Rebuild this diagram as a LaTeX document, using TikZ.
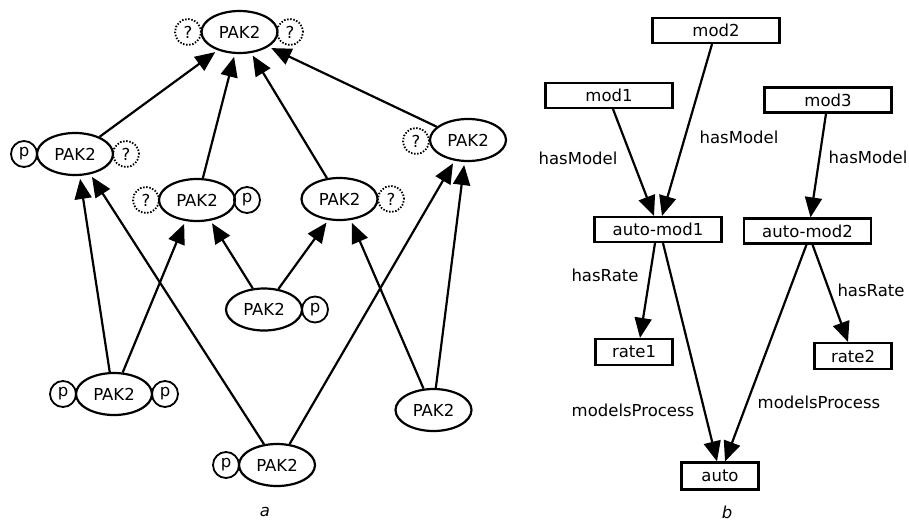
\documentclass[tikz,border=0pt]{standalone}
\usepackage{fontspec}
\setmainfont{DejaVu Sans}
\usetikzlibrary{shapes.geometric,arrows.meta}
\begin{document}
\begin{tikzpicture}[x=1pt,y=-1pt,
  font=\fontsize{16.5}{19}\selectfont,
  every path/.style={line width=2.2pt},
  prot/.style={ellipse,draw,line width=2.2pt,minimum width=76pt,minimum height=42pt,inner sep=0pt},
  site/.style={circle,draw,line width=1.8pt,minimum size=26pt,inner sep=0pt},
  unknown/.style={site,dash pattern=on 1.5pt off 1.6pt},
  box/.style={rectangle,draw,line width=2.2pt,minimum width=127pt,minimum height=25pt,inner sep=0pt},
  smallbox/.style={box,minimum width=77pt,minimum height=26pt},
  lbl/.style={inner sep=0pt},
  arr/.style={-{Triangle[length=20pt,width=17pt]},line width=2.2pt},
  arrgap/.style={arr,shorten >=3pt}]
\useasboundingbox (0,0) rectangle (909,522);

% ---------- (a) phosphorylation lattice of PAK2 ----------
\node[prot] (top) at (239.5,32) {PAK2};
\node[unknown] (topq1) at (188,32) {?};
\node[unknown] (topq2) at (290,32) {?};

\node[prot] (lp) at (75,154) {PAK2};
\node[site] (lpp) at (24,154) {p};
\node[unknown] (lpq) at (126,154) {?};

\node[prot] (ml) at (197,200) {PAK2};
\node[unknown] (mlq) at (146,200) {?};
\node[site] (mlp) at (247,200) {p};

\node[prot] (mr) at (339.5,199) {PAK2};
\node[unknown] (mrq) at (391,199) {?};

\node[prot] (rp) at (468,140) {PAK2};
\node[unknown] (rpq) at (416,141) {?};

\node[prot] (cc) at (264,309.5) {PAK2};
\node[site] (ccp) at (315,309.5) {p};

\node[prot] (bl) at (114,394) {PAK2};
\node[site] (blp1) at (63,394) {p};
\node[site] (blp2) at (165,394) {p};

\node[prot] (bb) at (277,465) {PAK2};
\node[site] (bbp) at (226,465) {p};

\node[prot] (br) at (433.5,410) {PAK2};

\draw[arrgap] (lp.35)   -- (top.-140);
\draw[arrgap] (ml.75)   -- (top.-102);
\draw[arrgap] (mr.121)  -- (top.-61);
\draw[arrgap] (rp.157)  -- (top.-27);
\draw[arrgap] (bl.101)  -- (lp.-78);
\draw[arrgap] (bb.122)  -- (lp.-53);
\draw[arrgap] (bl.68)   -- (ml.-119);
\draw[arrgap] (cc.118)  -- (ml.-57);
\draw[arrgap] (cc.55)   -- (mr.-118);
\draw[arrgap] (br.115)  -- (mr.-62);
\draw[arrgap] (bb.59)   -- (rp.-123);
\draw[arrgap] (br.84)   -- (rp.-99);

\node[lbl,font=\fontsize{16.5}{19}\selectfont\itshape] (capa) at (265,512) {a};

% ---------- (b) model annotation graph ----------
\node[box] (mod2) at (716,30.5) {mod2};
\node[box] (mod1) at (609,95.5) {mod1};
\node[box] (mod3) at (828,100) {mod3};
\node[box] (am1) at (658,229.5) {auto-mod1};
\node[box] (am2) at (807.5,231) {auto-mod2};
\node[smallbox] (rate1) at (634,352) {rate1};
\node[smallbox] (rate2) at (853,356) {rate2};
\node[smallbox,minimum height=27pt] (auto) at (720,476) {auto};

\draw[arr] ([xshift=4pt]mod1.south)  -- ([xshift=-4pt]am1.north);
\draw[arr] ([xshift=-4pt]mod2.south) -- ([xshift=4pt]am1.north);
\draw[arr] ([xshift=-2pt]mod3.south) -- ([xshift=3pt]am2.north);
\draw[arr] ([xshift=-3pt]am1.south)  -- ([xshift=6pt]rate1.north);
\draw[arr] ([xshift=5pt]am1.south)   -- ([xshift=-3pt]auto.north);
\draw[arr] ([xshift=5pt]am2.south)   -- ([xshift=-5pt]rate2.north);
\draw[arr] ([xshift=-1pt]am2.south)  -- ([xshift=5pt]auto.north);

\node[lbl] (hm1) at (578,158) {hasModel};
\node[lbl] (hm2) at (739,137) {hasModel};
\node[lbl,anchor=east] (hm3) at (908.5,157) {hasModel};
\node[lbl] (hr1) at (605,275) {hasRate};
\node[lbl] (hr2) at (871,290) {hasRate};
\node[lbl] (mp1) at (633,410) {modelsProcess};
\node[lbl] (mp2) at (819,402) {modelsProcess};

\node[lbl,font=\fontsize{16.5}{19}\selectfont\itshape] (capb) at (727,512) {b};
\end{tikzpicture}
\end{document}
